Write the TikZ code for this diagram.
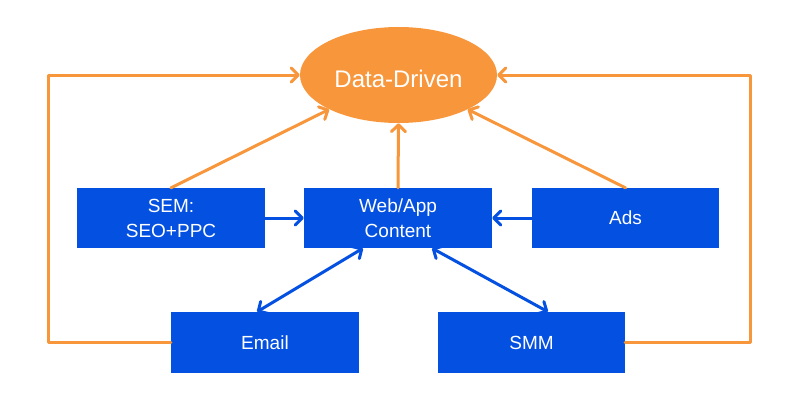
\documentclass[tikz,border=0pt]{standalone}
\usepackage{fontspec}
\setmainfont{Liberation Sans}
\usetikzlibrary{arrows.meta,shapes.geometric,calc}
\definecolor{dorange}{HTML}{F8963C}
\definecolor{dblue}{HTML}{0450E0}
\begin{document}
\begin{tikzpicture}[x=1pt,y=-1pt,
  box/.style={rectangle,fill=dblue,text=white,minimum width=188pt,minimum height=60pt,inner sep=0pt,align=center,font=\fontsize{19}{25}\selectfont},
  oline/.style={draw=dorange,line width=3pt,line cap=round,line join=round},
  bline/.style={draw=dblue,line width=3pt,line cap=round,line join=round},
  tip/.style={-{Straight Barb[length=7pt,width=14pt,round]}},
  dtip/.style={{Straight Barb[length=7pt,width=14pt,round]}-{Straight Barb[length=7pt,width=14pt,round]}}
]
\useasboundingbox (0,0) rectangle (800,400);
\node[ellipse,fill=dorange,minimum width=197pt,minimum height=96pt,inner sep=0pt] (dd) at (398.5,75) {};
\node[text=white,font=\fontsize{24}{28}\selectfont,inner sep=0pt] (ddt) at (398.5,79) {Data-Driven};
\node[box] (sem) at (171,218) {SEM:\\SEO+PPC};
\node[box] (web) at (398,218) {Web/App\\Content};
\node[box,minimum width=187pt] (ads) at (625.5,218) {Ads};
\node[box,minimum height=61pt] (email) at (265,342.5) {Email};
\node[box,minimum width=187pt,minimum height=61pt] (smm) at (531.5,342.5) {SMM};
% orange
\draw[oline,tip] (sem.north) -- (dd);
\draw[oline,tip] (ads.north) -- (dd);
\draw[oline,tip] (web.north) -- (dd.south);
\draw[oline,tip] (email.west) -- ++(-122,0) |- (dd.west);
\draw[oline,tip] (smm.east) -- ++(125,0) |- (dd.east);
% blue
\draw[bline,tip] (sem.east) -- (web.west);
\draw[bline,tip] (ads.west) -- (web.east);
\draw[bline,dtip] ([xshift=-8pt]email.north) -- ([xshift=-35pt]web.south);
\draw[bline,dtip] ([xshift=16.5pt]smm.north) -- ([xshift=34pt]web.south);
\end{tikzpicture}
\end{document}
